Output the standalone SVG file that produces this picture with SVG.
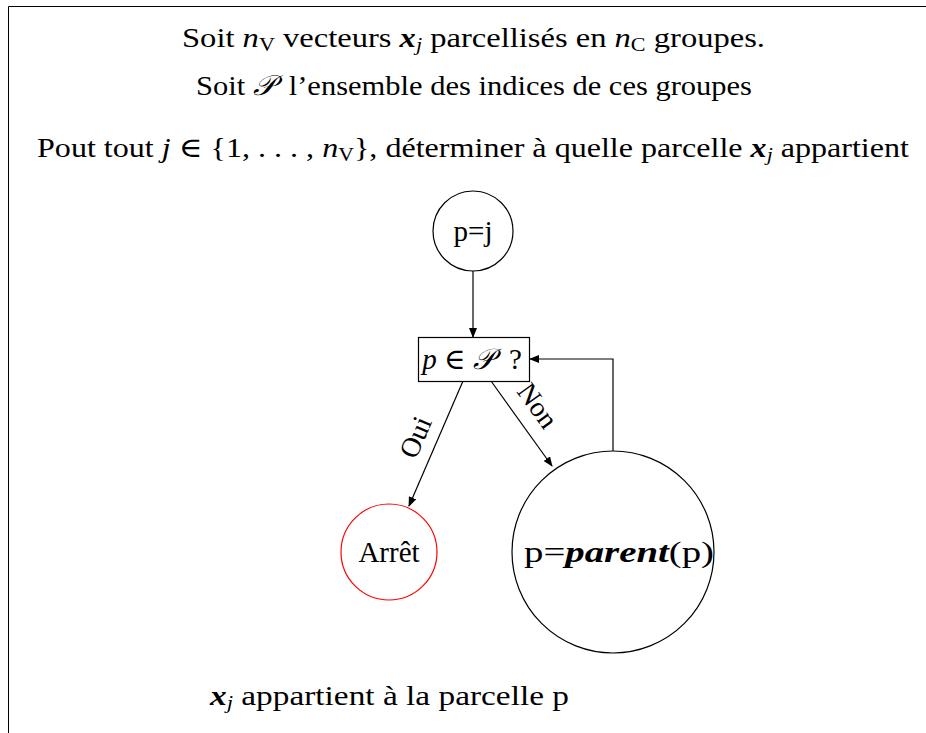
<svg xmlns="http://www.w3.org/2000/svg" width="926" height="733" viewBox="0 0 926 733">
<style>
text{font-family:"Liberation Serif","DejaVu Serif",serif;font-size:28px;fill:#000}
.it{font-style:italic}
.bi{font-style:italic;font-weight:bold}
.sub{font-size:19px}
.nt{font-size:29px}
.node{fill:#fff;stroke:#000;stroke-width:1.2}
.edge{fill:none;stroke:#000;stroke-width:1.2}
</style>
<defs>
<marker id="ah" markerWidth="10" markerHeight="8" refX="9" refY="4" orient="auto" markerUnits="userSpaceOnUse">
<path d="M0,0 L10,4 L0,8 Z" fill="#000"/>
</marker>
</defs>
<rect width="926" height="733" fill="#fff"/>
<path d="M8.5,733 V6.5 H926" fill="none" stroke="#000" stroke-width="1"/>
<g id="texts">
<text x="182" y="47" textLength="583" lengthAdjust="spacingAndGlyphs">Soit <tspan class="it">n</tspan><tspan class="sub" dy="4">V</tspan><tspan dy="-4"> vecteurs </tspan><tspan class="bi">x</tspan><tspan class="sub it" dy="4">j</tspan><tspan dy="-4"> parcellisés en </tspan><tspan class="it">n</tspan><tspan class="sub" dy="4">C</tspan><tspan dy="-4"> groupes.</tspan></text>
<text x="196" y="95" textLength="556" lengthAdjust="spacingAndGlyphs">Soit <tspan class="it">𝒫</tspan><tspan dx="6"> l’ensemble des indices de ces groupes</tspan></text>
<text x="37" y="157" textLength="872" lengthAdjust="spacingAndGlyphs">Pout tout <tspan class="it">j</tspan> ∈ {1, . . . , <tspan class="it">n</tspan><tspan class="sub" dy="4">V</tspan><tspan dy="-4">}, déterminer à quelle parcelle </tspan><tspan class="bi">x</tspan><tspan class="sub it" dy="4">j</tspan><tspan dy="-4"> appartient</tspan></text>
<text x="210" y="705" textLength="359" lengthAdjust="spacingAndGlyphs"><tspan class="bi">x</tspan><tspan class="sub it" dy="4">j</tspan><tspan dy="-4"> appartient à la parcelle p</tspan></text>
</g>
<g id="edges">
<line class="edge" x1="473" y1="271" x2="473" y2="337" marker-end="url(#ah)"/>
<line class="edge" x1="463" y1="381" x2="409" y2="506" marker-end="url(#ah)"/>
<line class="edge" x1="491" y1="381" x2="552" y2="466" marker-end="url(#ah)"/>
<path class="edge" d="M613,451 V359 H530" marker-end="url(#ah)"/>
<text x="0" y="0" transform="translate(424,441) rotate(-66.6)" text-anchor="middle">Oui</text>
<text x="0" y="0" transform="translate(530,411) rotate(54.3)" text-anchor="middle">Non</text>
</g>
<g id="n_pj">
<circle class="node" cx="473" cy="231" r="40"/>
<text class="nt" x="473" y="241" text-anchor="middle">p=j</text>
</g>
<g id="n_test">
<rect class="node" x="418.5" y="337.5" width="111" height="44"/>
<text class="nt" x="472" y="369" text-anchor="middle"><tspan class="it">p</tspan> ∈ <tspan class="it">𝒫</tspan><tspan dx="8"> ?</tspan></text>
</g>
<g id="n_arret">
<circle cx="389" cy="552" r="48" fill="#fff" stroke="#f00" stroke-width="1.2"/>
<text class="nt" x="389" y="562" text-anchor="middle">Arrêt</text>
</g>
<g id="n_parent">
<circle class="node" cx="613" cy="552" r="101"/>
<text class="nt" x="619" y="562" text-anchor="middle" textLength="190" lengthAdjust="spacingAndGlyphs">p=<tspan class="bi">parent</tspan>(p)</text>
</g>
</svg>
